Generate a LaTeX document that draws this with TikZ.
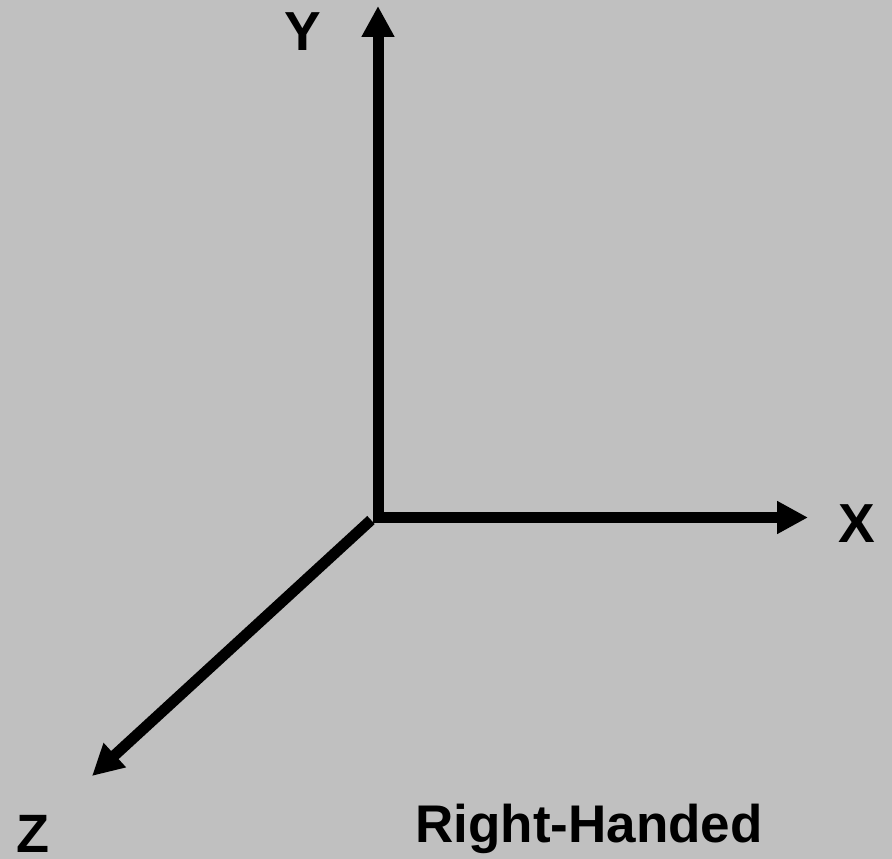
\documentclass[tikz,border=0pt]{standalone}
\usepackage{fontspec}
\setmainfont{Liberation Sans}
\usetikzlibrary{arrows.meta}
\definecolor{bggray}{RGB}{192,192,192}
\tikzset{
  axis/.style={line width=11pt, line join=miter, -{Triangle[length=31pt,width=31pt]}},
  lbl/.style={inner sep=0pt, font=\fontsize{55}{60}\selectfont\bfseries}
}
\begin{document}
\begin{tikzpicture}[x=1pt,y=-1pt]
  \fill[bggray] (0,0) rectangle (892,859);
  \useasboundingbox (0,0) rectangle (892,859);
  \coordinate (O) at (378,517.5);
  \coordinate (Ytip) at (378,6);
  \coordinate (Xtip) at (808,517.5);
  \coordinate (Zstart) at (371,520);
  \coordinate (Ztip) at (92,776);
  \draw[axis, {Triangle[length=31pt,width=31pt]}-{Triangle[length=31pt,width=31pt]}] (Ytip) -- (O) -- (Xtip);
  \draw[axis] (Zstart) -- (Ztip);
  \node[lbl] (ylabel) at (303,32) {Y};
  \node[lbl] (xlabel) at (857,523.5) {X};
  \node[lbl, font=\fontsize{54}{60}\selectfont\bfseries] (zlabel) at (32.5,834) {Z};
  \node[lbl, anchor=base, font=\fontsize{53}{60}\selectfont\bfseries] (title) at (589,842) {Right-Handed};
\end{tikzpicture}
\end{document}
